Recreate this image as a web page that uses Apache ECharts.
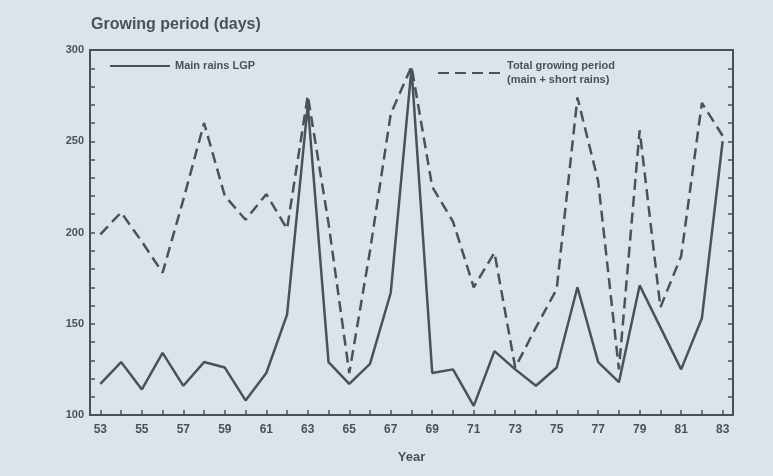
<!DOCTYPE html>
<html>
<head>
<meta charset="utf-8">
<script src="https://cdn.jsdelivr.net/npm/echarts@6/dist/echarts.min.js"></script>
<style>
  html, body { margin: 0; padding: 0; background: #dbe4ea; }
  #chart { width: 773px; height: 476px; }
</style>
</head>
<body>
<div id="chart"></div>
<script>
// years 1953-1983, shown as two digits
const years = ['53','54','55','56','57','58','59','60','61','62','63','64','65','66','67','68',
  '69','70','71','72','73','74','75','76','77','78','79','80','81','82','83'];

// main rains length of growing period (days)
const mainRains = [117, 129, 114, 134, 116, 129, 126, 108, 123, 155, 270, 129, 117, 128, 167, 290,
  123, 125, 105, 135, 125, 116, 126, 170, 129, 118, 171, 148, 125, 153, 250];

// total growing period, main + short rains (days)
const totalPeriod = [199, 211, 195, 178, 218, 260, 220, 207, 221, 202, 275, 205, 123, 190, 265, 291,
  225, 206, 170, 189, 126, 148, 169, 274, 228, 125, 256, 159, 187, 271, 253];

const ink = '#4a5259';

let myChart = echarts.init(document.getElementById('chart'));

// legend: line only, no dot in the middle
let legendBase = {
  itemWidth: 60,
  itemHeight: 10,
  itemStyle: { opacity: 0 },
  textStyle: { fontSize: 11, fontWeight: 'bold', color: ink, lineHeight: 14 },
};

let option = {
  backgroundColor: '#dbe4ea',
  animation: false,
  textStyle: { fontFamily: 'Liberation Sans', color: ink },
  title: {
    text: 'Growing period (days)',
    left: 86,
    top: 12,
    textStyle: { fontSize: 16, fontWeight: 'bold', color: ink },
  },
  legend: [
    Object.assign({}, legendBase, {
      data: ['Main rains LGP'],
      left: 104,
      top: 54,
    }),
    Object.assign({}, legendBase, {
      data: ['Total growing period\n(main + short rains)'],
      left: 432,
      top: 54,
      itemWidth: 64,
    }),
  ],
  grid: {
    left: 90,
    right: 40,
    top: 50,
    bottom: 61,
    show: true,
    borderColor: ink,
    borderWidth: 2,
    backgroundColor: 'transparent',
  },
  xAxis: {
    type: 'category',
    data: years,
    boundaryGap: true,
    name: 'Year',
    nameLocation: 'middle',
    nameGap: 36,
    nameTextStyle: { fontSize: 13, fontWeight: 'bold', color: ink },
    axisLine: { show: true, lineStyle: { color: ink, width: 2 } },
    axisTick: { show: true, inside: true, alignWithLabel: true, interval: 0, length: 5,
      lineStyle: { color: ink, width: 1.5 } },
    axisLabel: { interval: 1, fontSize: 12, fontWeight: 'bold', color: ink, margin: 9 },
    splitLine: { show: false },
  },
  yAxis: [
    {
      type: 'value',
      min: 100,
      max: 300,
      interval: 10,
      axisLine: { show: true, lineStyle: { color: ink, width: 2 } },
      axisTick: { show: true, inside: true, length: 5, lineStyle: { color: ink, width: 1.5 } },
      axisLabel: {
        fontSize: 11,
        fontWeight: 'bold',
        color: ink,
        margin: 6,
        formatter: (v) => (v % 50 === 0 ? String(v) : ''),
      },
      splitLine: { show: false },
    },
    {
      type: 'value',
      position: 'right',
      min: 100,
      max: 300,
      interval: 10,
      axisLine: { show: true, lineStyle: { color: ink, width: 2 } },
      axisTick: { show: true, inside: true, length: 5, lineStyle: { color: ink, width: 1.5 } },
      axisLabel: { show: false },
      splitLine: { show: false },
    },
  ],
  series: [
    {
      name: 'Main rains LGP',
      type: 'line',
      data: mainRains,
      symbol: 'none',
      itemStyle: { color: ink },
      lineStyle: { color: ink, width: 2.5 },
      z: 3,
    },
    {
      name: 'Total growing period\n(main + short rains)',
      type: 'line',
      data: totalPeriod,
      symbol: 'none',
      itemStyle: { color: ink },
      lineStyle: { color: ink, width: 2.5, type: [11, 6] },
      z: 2,
    },
  ],
};

myChart.setOption(option);
</script>
</body>
</html>
